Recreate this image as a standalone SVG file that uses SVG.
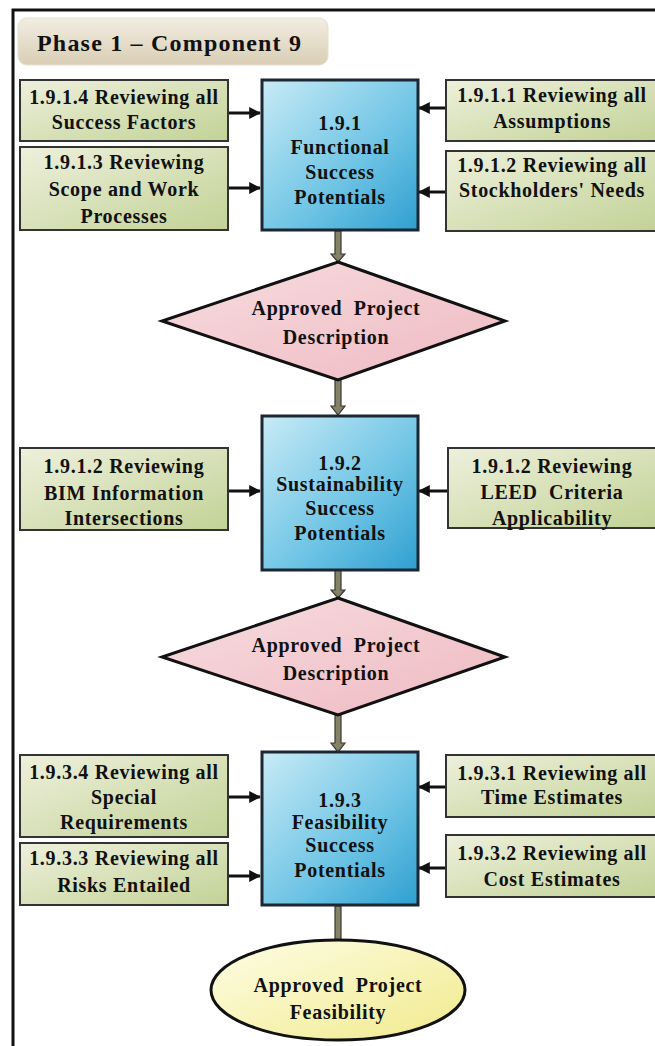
<svg xmlns="http://www.w3.org/2000/svg" width="655" height="1046" viewBox="0 0 655 1046">
<defs>
<linearGradient id="gGreen" x1="0" y1="0" x2="1" y2="1"><stop offset="0" stop-color="#eef0dc"/><stop offset="1" stop-color="#c2d296"/></linearGradient>
<linearGradient id="gBlue" x1="0" y1="0" x2="1" y2="1"><stop offset="0" stop-color="#c8ebf6"/><stop offset="0.6" stop-color="#6cc3e4"/><stop offset="1" stop-color="#2f9fd0"/></linearGradient>
<linearGradient id="gPink" x1="0" y1="0" x2="1" y2="1"><stop offset="0" stop-color="#f7dde0"/><stop offset="1" stop-color="#eeb9c1"/></linearGradient>
<linearGradient id="gYellow" x1="0" y1="0" x2="1" y2="1"><stop offset="0" stop-color="#fefde6"/><stop offset="1" stop-color="#f1ea8c"/></linearGradient>
<linearGradient id="gTitle" x1="0" y1="0" x2="0" y2="1"><stop offset="0" stop-color="#f2ede2"/><stop offset="1" stop-color="#d9ceb4"/></linearGradient>
<marker id="ah" viewBox="0 0 10 10" refX="9" refY="5" markerWidth="4" markerHeight="4" orient="auto"><path d="M0,0 L10,5 L0,10 z" fill="#111"/></marker>
</defs>
<style>
.t{font-family:"Liberation Serif","Times New Roman",serif;font-weight:bold;font-size:20px;letter-spacing:0.7px;fill:#111;text-anchor:middle;white-space:pre}
.g{fill:url(#gGreen);stroke:#333;stroke-width:2}
.b{fill:url(#gBlue);stroke:#1c2733;stroke-width:3}
.d{fill:url(#gPink);stroke:#111;stroke-width:3}
.h{stroke:#111;stroke-width:3;fill:none;marker-end:url(#ah)}
.v{fill:#85826a;stroke:#3a382c;stroke-width:1.2}
</style>
<rect width="655" height="1046" fill="#fff"/>
<path d="M13,1046 V10 H655" fill="none" stroke="#111" stroke-width="3"/>
<g id="title">
<rect x="18" y="18" width="310" height="47" rx="9" fill="url(#gTitle)" stroke="#e6dfcf" stroke-width="1"/>
<text x="37" y="51" style="font-family:'Liberation Serif','Times New Roman',serif;font-weight:bold;font-size:24px;letter-spacing:1.2px;fill:#111">Phase 1 – Component 9</text>
</g>
<g id="connectors">
<line class="h" x1="228" y1="113" x2="260" y2="113"/>
<line class="h" x1="228" y1="188" x2="260" y2="188"/>
<line class="h" x1="446" y1="108" x2="419" y2="108"/>
<line class="h" x1="446" y1="192" x2="419" y2="192"/>
<line class="h" x1="228" y1="491" x2="260" y2="491"/>
<line class="h" x1="448" y1="491" x2="419" y2="491"/>
<line class="h" x1="228" y1="797" x2="260" y2="797"/>
<line class="h" x1="228" y1="876" x2="260" y2="876"/>
<line class="h" x1="446" y1="787" x2="419" y2="787"/>
<line class="h" x1="446" y1="868" x2="419" y2="868"/>
<polygon class="v" points="335,231 341,231 341,254 345,254 338,262 331,254 335,254"/>
<polygon class="v" points="335,380 341,380 341,406 345,406 338,415 331,406 335,406"/>
<polygon class="v" points="335,570 341,570 341,590 345,590 338,598 331,590 335,590"/>
<polygon class="v" points="335,715 341,715 341,743 345,743 338,752 331,743 335,743"/>
<polygon class="v" points="335,906 341,906 341,941 335,941"/>
</g>
<g id="n191">
<rect class="b" x="262" y="80" width="156" height="150"/>
<text class="t" x="340" y="130">1.9.1</text>
<text class="t" x="340" y="154">Functional</text>
<text class="t" x="340" y="179">Success</text>
<text class="t" x="340" y="204">Potentials</text>
</g>
<g id="n1914">
<rect class="g" x="20" y="80" width="208" height="61"/>
<text class="t" x="124" y="104">1.9.1.4 Reviewing all</text>
<text class="t" x="124" y="129">Success Factors</text>
</g>
<g id="n1913">
<rect class="g" x="20" y="147" width="208" height="83"/>
<text class="t" x="124" y="169">1.9.1.3 Reviewing</text>
<text class="t" x="124" y="196">Scope and Work</text>
<text class="t" x="124" y="223">Processes</text>
</g>
<g id="n1911">
<rect class="g" x="446" y="80" width="212" height="61"/>
<text class="t" x="552" y="102">1.9.1.1 Reviewing all</text>
<text class="t" x="552" y="128">Assumptions</text>
</g>
<g id="n1912">
<rect class="g" x="446" y="151" width="212" height="80"/>
<text class="t" x="552" y="172">1.9.1.2 Reviewing all</text>
<text class="t" x="552" y="197">Stockholders' Needs</text>
</g>
<g id="d1">
<polygon class="d" points="338,262 505,321 338,380 162,321"/>
<text class="t" x="336" y="315">Approved  Project</text>
<text class="t" x="336" y="344">Description</text>
</g>
<g id="n192">
<rect class="b" x="262" y="416" width="156" height="154"/>
<text class="t" x="340" y="470">1.9.2</text>
<text class="t" x="340" y="491">Sustainability</text>
<text class="t" x="340" y="515">Success</text>
<text class="t" x="340" y="540">Potentials</text>
</g>
<g id="nBIM">
<rect class="g" x="20" y="448" width="208" height="82"/>
<text class="t" x="124" y="473">1.9.1.2 Reviewing</text>
<text class="t" x="124" y="500">BIM Information</text>
<text class="t" x="124" y="525">Intersections</text>
</g>
<g id="nLEED">
<rect class="g" x="448" y="448" width="210" height="80"/>
<text class="t" x="552" y="473">1.9.1.2 Reviewing</text>
<text class="t" x="552" y="499">LEED  Criteria</text>
<text class="t" x="552" y="525">Applicability</text>
</g>
<g id="d2">
<polygon class="d" points="338,598 505,657 338,715 162,657"/>
<text class="t" x="336" y="652">Approved  Project</text>
<text class="t" x="336" y="680">Description</text>
</g>
<g id="n193">
<rect class="b" x="262" y="752" width="156" height="153"/>
<text class="t" x="340" y="807">1.9.3</text>
<text class="t" x="340" y="829">Feasibility</text>
<text class="t" x="340" y="852">Success</text>
<text class="t" x="340" y="877">Potentials</text>
</g>
<g id="n1934">
<rect class="g" x="20" y="755" width="208" height="82"/>
<text class="t" x="124" y="779">1.9.3.4 Reviewing all</text>
<text class="t" x="124" y="804">Special</text>
<text class="t" x="124" y="829">Requirements</text>
</g>
<g id="n1933">
<rect class="g" x="20" y="843" width="208" height="62"/>
<text class="t" x="124" y="865">1.9.3.3 Reviewing all</text>
<text class="t" x="124" y="892">Risks Entailed</text>
</g>
<g id="n1931">
<rect class="g" x="446" y="755" width="212" height="62"/>
<text class="t" x="552" y="780">1.9.3.1 Reviewing all</text>
<text class="t" x="552" y="804">Time Estimates</text>
</g>
<g id="n1932">
<rect class="g" x="446" y="835" width="212" height="62"/>
<text class="t" x="552" y="860">1.9.3.2 Reviewing all</text>
<text class="t" x="552" y="886">Cost Estimates</text>
</g>
<g id="e1">
<ellipse cx="338" cy="990" rx="127" ry="50" fill="url(#gYellow)" stroke="#111" stroke-width="3"/>
<text class="t" x="338" y="992">Approved  Project</text>
<text class="t" x="338" y="1019">Feasibility</text>
</g>
</svg>
